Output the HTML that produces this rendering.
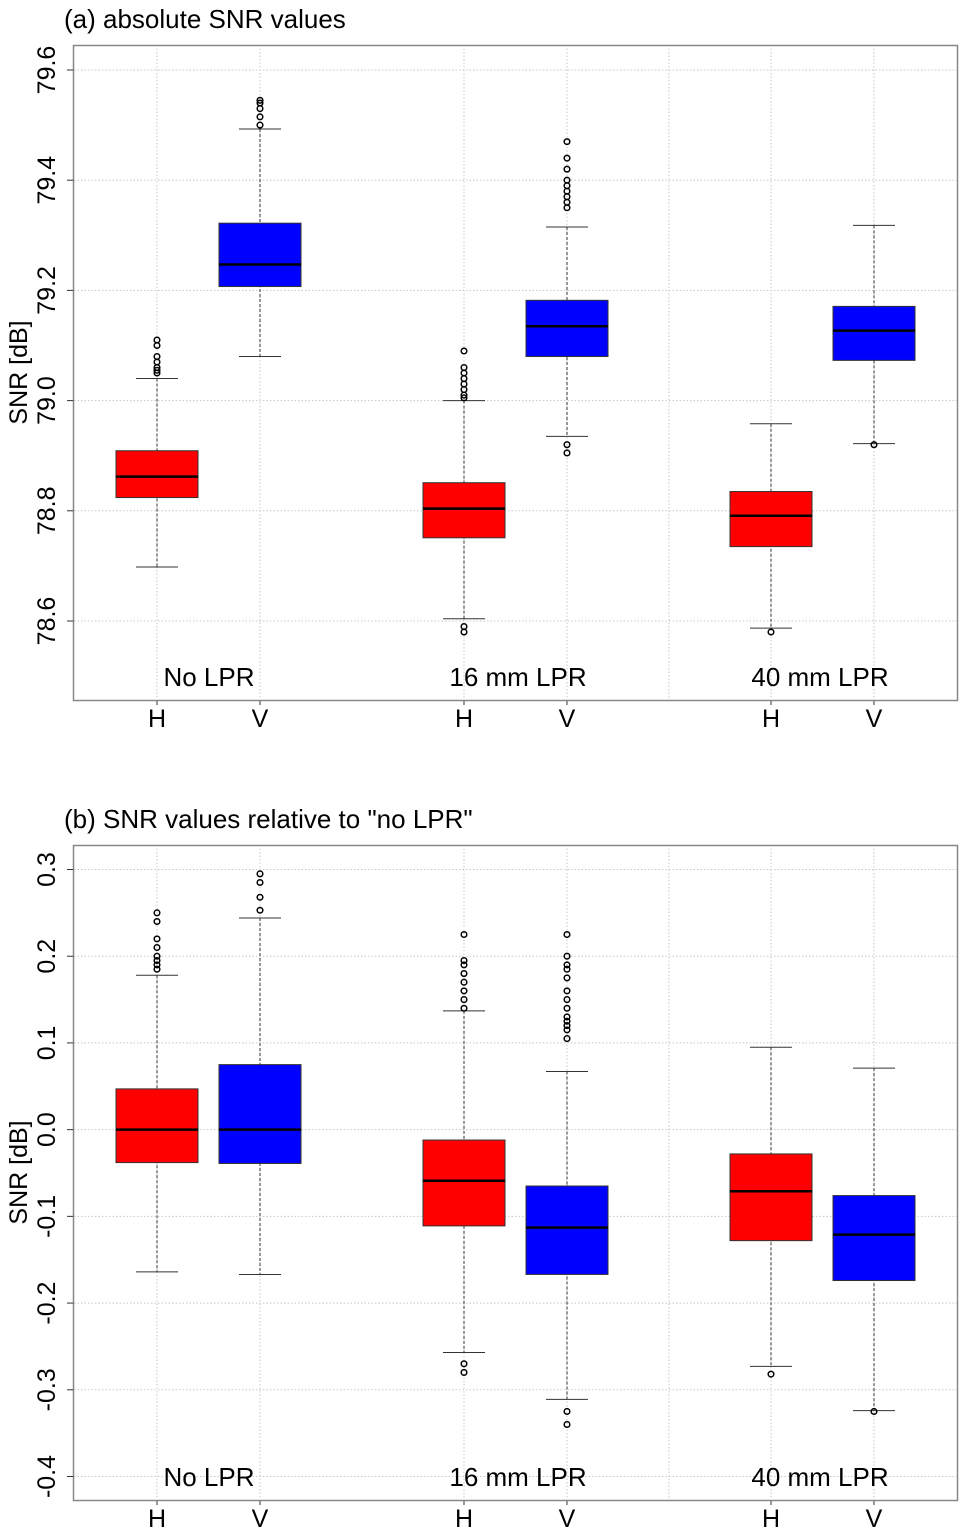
<!DOCTYPE html>
<html><head><meta charset="utf-8"><style>
body{margin:0;background:#fff;}
svg{display:block;font-family:"Liberation Sans",sans-serif;}
</style></head><body>
<svg id="chart" width="967" height="1535" xmlns="http://www.w3.org/2000/svg"></svg>
<script>
const categories = ["H","V","H","V","H","V"];
const groupLabels = ["No LPR","16 mm LPR","40 mm LPR"];
const colors = ["#ff0000","#0000ff","#ff0000","#0000ff","#ff0000","#0000ff"];
// panel a
const aTicks = [78.6,78.8,79.0,79.2,79.4,79.6];
const aTickLabels = ["78.6","78.8","79.0","79.2","79.4","79.6"];
const aQ1 = [78.824,79.207,78.751,79.080,78.735,79.073];
const aMed = [78.862,79.247,78.804,79.135,78.791,79.127];
const aQ3 = [78.909,79.322,78.851,79.182,78.835,79.171];
const aLo = [78.698,79.080,78.604,78.935,78.587,78.922];
const aHi = [79.040,79.493,79.000,79.315,78.958,79.318];
const aOut = [[79.05,79.055,79.06,79.07,79.08,79.10,79.11],[79.50,79.515,79.53,79.54,79.545],
  [79.005,79.01,79.02,79.03,79.04,79.05,79.06,79.09,78.59,78.58],
  [79.35,79.36,79.37,79.38,79.39,79.40,79.42,79.44,79.47,78.92,78.905],[78.58],[78.92]];
// panel b
const bTicks = [-0.4,-0.3,-0.2,-0.1,0.0,0.1,0.2,0.3];
const bTickLabels = ["-0.4","-0.3","-0.2","-0.1","0.0","0.1","0.2","0.3"];
const bQ1 = [-0.038,-0.039,-0.111,-0.167,-0.128,-0.174];
const bMed = [0.0,0.0,-0.059,-0.113,-0.071,-0.121];
const bQ3 = [0.047,0.075,-0.012,-0.065,-0.028,-0.076];
const bLo = [-0.164,-0.167,-0.257,-0.311,-0.273,-0.324];
const bHi = [0.178,0.244,0.137,0.067,0.095,0.071];
const bOut = [[0.185,0.19,0.195,0.2,0.21,0.22,0.24,0.25],[0.253,0.268,0.285,0.295],
  [0.14,0.15,0.16,0.17,0.18,0.19,0.195,0.225,-0.27,-0.28],
  [0.105,0.115,0.12,0.125,0.13,0.14,0.15,0.16,0.175,0.185,0.19,0.2,0.225,-0.325,-0.34],[-0.282],[-0.325]];

const NS="http://www.w3.org/2000/svg";
const svg=document.getElementById("chart");
const xPos=[157,260,464,567,771,874];
const groupX=[209,518,820];
function mk(tag,attrs,parent){const e=document.createElementNS(NS,tag);for(const k in attrs)e.setAttribute(k,attrs[k]);(parent||svg).appendChild(e);return e;}

function panel(id,top,bottom,title,v0,y0,v1,y1,ticks,tickLabels,q1,med,q3,lo,hi,out){
  const g=mk("g",{});
  
  
  const y=v=>y0+(v-v0)*(y1-y0)/(v1-v0);
  ticks.forEach(t=>{const l=mk("line",{x1:74,x2:957,y1:y(t),y2:y(t),stroke:"#c8c8c8","stroke-dasharray":"1.5,2","stroke-width":1},g);
    });
  [157,260,464,567,669,771,874].forEach(xx=>{const l=mk("line",{x1:xx,x2:xx,y1:top,y2:bottom,stroke:"#c8c8c8","stroke-dasharray":"1.5,2","stroke-width":1},g);
    });
  categories.forEach((c,i)=>{
    const x=xPos[i];
    const bg=mk("g",{},g);
    
    
    mk("line",{x1:x,x2:x,y1:y(hi[i]),y2:y(lo[i]),stroke:"#333","stroke-dasharray":"3,2","stroke-width":1},bg);
    mk("line",{x1:x-21,x2:x+21,y1:y(hi[i]),y2:y(hi[i]),stroke:"#333","stroke-width":1},bg);
    mk("line",{x1:x-21,x2:x+21,y1:y(lo[i]),y2:y(lo[i]),stroke:"#333","stroke-width":1},bg);
    mk("rect",{x:x-41,y:y(q3[i]),width:82,height:y(q1[i])-y(q3[i]),fill:colors[i],stroke:"#333","stroke-width":1},bg);
    mk("line",{x1:x-41,x2:x+41,y1:y(med[i]),y2:y(med[i]),stroke:"#000","stroke-width":2.5},bg);
    out[i].forEach(o=>{const p=mk("circle",{cx:x,cy:y(o),r:2.8,fill:"none",stroke:"#000","stroke-width":1.5},bg);
      });
    const t=mk("text",{x:x,y:bottom+27,"text-anchor":"middle","font-size":25},g);t.textContent=c;
    
    mk("line",{x1:x,x2:x,y1:bottom,y2:bottom+5,stroke:"#333"},g);
  });
  groupLabels.forEach((gl,i)=>{const t=mk("text",{x:groupX[i],y:bottom-14,"text-anchor":"middle","font-size":26},g);t.textContent=gl;
    });
  const f=mk("rect",{x:73.5,y:top+0.5,width:884,height:bottom-top,fill:"none",stroke:"#888","stroke-width":1.5},g);
  
  ticks.forEach((t,i)=>{mk("line",{x1:67,x2:73,y1:y(t),y2:y(t),stroke:"#333"},g);
    const tx=mk("text",{x:0,y:0,"text-anchor":"middle","font-size":25,transform:`translate(55,${y(t)}) rotate(-90)`},g);tx.textContent=tickLabels[i];
    });
  const yl=mk("text",{x:0,y:0,"text-anchor":"middle","font-size":25,transform:`translate(27,${(top+bottom)/2}) rotate(-90)`},g);yl.textContent="SNR [dB]";
  
  const tt=mk("text",{x:64,y:top-17,"font-size":26},g);tt.textContent=title;
  
}
panel("panel-a",45,700,"(a) absolute SNR values",79.6,70,78.6,621,aTicks,aTickLabels,aQ1,aMed,aQ3,aLo,aHi,aOut);
panel("panel-b",845,1500,'(b) SNR values relative to "no LPR"',0.3,869.5,-0.4,1476.5,bTicks,bTickLabels,bQ1,bMed,bQ3,bLo,bHi,bOut);
</script>
</body></html>
